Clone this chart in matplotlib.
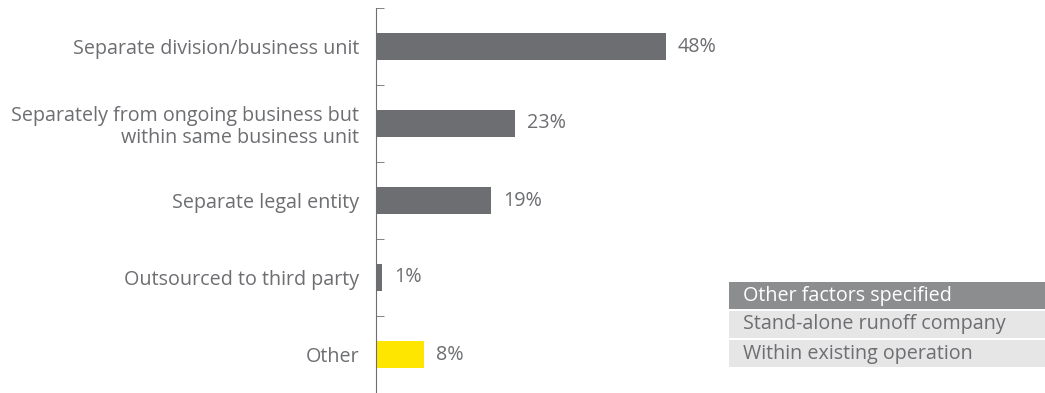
import matplotlib.pyplot as plt
from matplotlib.patches import Rectangle

categories = [
    "Separate division/business unit",
    "Separately from ongoing business but\nwithin same business unit",
    "Separate legal entity",
    "Outsourced to third party",
    "Other",
]
values = [48, 23, 19, 1, 8]
bar_colors = ["#6d6e71", "#6d6e71", "#6d6e71", "#6d6e71", "#ffe600"]

table_header = "Other factors specified"
table_rows = ["Stand-alone runoff company", "Within existing operation"]

GREY = "#6d6e71"
W, H = 1045, 393
FS = 14.2

plt.rcParams["font.family"] = ["Open Sans", "DejaVu Sans"]

fig = plt.figure(figsize=(W / 100, H / 100), dpi=100)
ax = fig.add_axes([376 / W, 0, 1 - 376 / W, 1 - 8 / H])

pos = list(range(len(categories)))
ax.barh(pos, values, height=0.35, color=bar_colors)
for p, v in zip(pos, values):
    ax.text(v + 2, p, f"{v}%", va="center", ha="left", fontsize=FS, color=GREY)

ax.set_ylim(len(categories) - 0.5, -0.5)
ax.set_xlim(0, (W - 376) / 6.04)
ax.set_yticks(pos)
ax.set_yticklabels(categories, fontsize=FS, color=GREY, linespacing=1.15)
ax.tick_params(axis="y", length=0, pad=12)
ax.set_yticks([p + 0.5 for p in [-1] + pos], minor=True)
ax.tick_params(axis="y", which="minor", direction="in", length=6, color=GREY)
ax.set_xticks([])
for s in ["top", "right", "bottom"]:
    ax.spines[s].set_visible(False)
ax.spines["left"].set_color(GREY)


# small legend-style table on the right
def box(y0, y1, color):
    fig.add_artist(Rectangle((729 / W, 1 - y1 / H), (W - 729) / W, (y1 - y0) / H,
                             transform=fig.transFigure, color=color, lw=0))


box(282, 309, "#8c8d8f")
fig.text(743 / W, 1 - 296 / H, table_header, color="white", fontsize=FS, va="center")
for i, row in enumerate(table_rows):
    y0 = 311 + i * 29
    box(y0, y0 + 27, "#e6e6e7")
    fig.text(743 / W, 1 - (y0 + 13.5) / H, row, color=GREY, fontsize=FS, va="center")

fig.savefig("out.png", dpi=100)
